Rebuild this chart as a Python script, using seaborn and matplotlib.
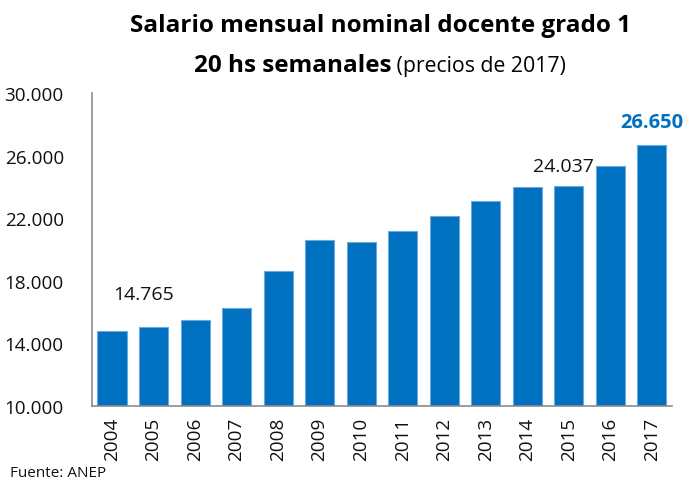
import matplotlib
matplotlib.use("Agg")
import matplotlib.pyplot as plt
import seaborn as sns
import pandas as pd
from matplotlib.ticker import FuncFormatter

years = ["2004", "2005", "2006", "2007", "2008", "2009", "2010",
         "2011", "2012", "2013", "2014", "2015", "2016", "2017"]
salaries = [14765, 15030, 15500, 16270, 18600, 20620, 20490,
            21200, 22120, 23120, 23970, 24037, 25320, 26650]
y_ticks = [10000, 14000, 18000, 22000, 26000, 30000]

title_line1 = "Salario mensual nominal docente grado 1"
title_bold2 = "20 hs semanales"
title_reg2 = " (precios de 2017)"
source = "Fuente: ANEP"

df = pd.DataFrame({"year": years, "salary": salaries})

sns.set_style("white")
plt.rcParams["font.family"] = ["Open Sans", "DejaVu Sans"]

W, H = 684, 481
fig = plt.figure(figsize=(W / 100, H / 100), dpi=100)
ax = fig.add_axes([0.134, 0.1545, 0.848, 0.650])

BLUE = "#0070C0"
sns.barplot(data=df, x="year", y="salary", color=BLUE, saturation=1,
            width=0.70, edgecolor="#6FA8DC", linewidth=0.8, ax=ax)

ax.set_ylim(10000, 30000)
ax.set_xlim(-0.49, 13.48)
ax.set_yticks(y_ticks)
ax.yaxis.set_major_formatter(FuncFormatter(lambda v, p: f"{int(v):,}".replace(",", ".")))
ax.set_xlabel("")
ax.set_ylabel("")
ax.tick_params(axis="y", length=0, pad=20, labelsize=13.6, colors="#111111")
ax.tick_params(axis="x", length=0, pad=8, labelsize=13.6, colors="#111111", rotation=90)

for s in ["top", "right"]:
    ax.spines[s].set_visible(False)
for s in ["left", "bottom"]:
    ax.spines[s].set_color("#8C8C8C")
    ax.spines[s].set_linewidth(1.2)

def fmt(v):
    return f"{v:,}".replace(",", ".")

ax.text(0.77, 17150, fmt(salaries[0]), ha="center", va="center",
        fontsize=14, color="#111111")
ax.text(10.88, 25350, fmt(salaries[11]), ha="center", va="center",
        fontsize=14, color="#111111")
ax.text(13, 28130, fmt(salaries[13]), ha="center", va="center",
        fontsize=14.5, color=BLUE, fontweight="bold")

# title
fig.text(380 / W, 1 - 32 / H, title_line1, ha="center", va="baseline",
         fontsize=17.5, fontweight="bold", color="#000000")
t_b = fig.text(0, 1 - 72 / H, title_bold2, ha="left", va="baseline",
               fontsize=17.5, fontweight="bold", color="#000000")
t_r = fig.text(0, 1 - 72 / H, title_reg2, ha="left", va="baseline",
               fontsize=15.3, color="#000000")
fig.canvas.draw()
r = fig.canvas.get_renderer()
wb = t_b.get_window_extent(r).width
wr = t_r.get_window_extent(r).width
x0 = 380 - (wb + wr) / 2
t_b.set_x(x0 / W)
t_r.set_x((x0 + wb) / W)

fig.text(0.015, 0.031, source, ha="left", va="top", fontsize=11, color="#111111")

fig.savefig("out.png", dpi=100)
